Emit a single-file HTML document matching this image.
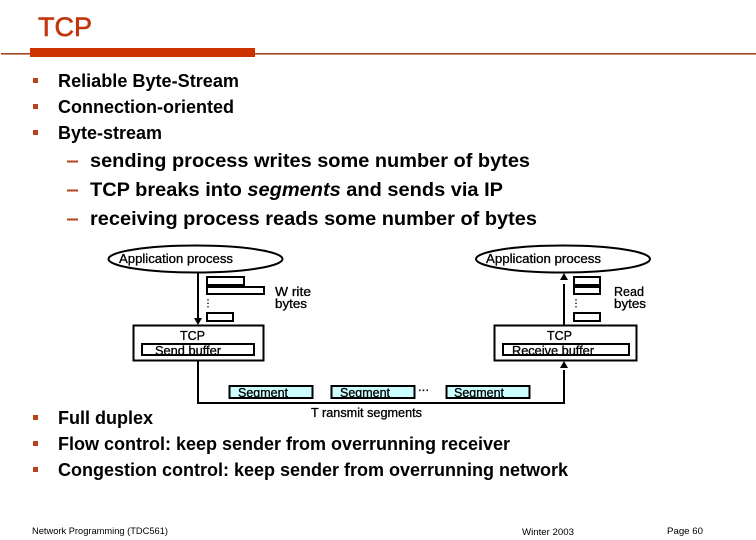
<!DOCTYPE html>
<html>
<head>
<meta charset="utf-8">
<style>
html,body{margin:0;padding:0;background:#fff;width:756px;height:540px;overflow:hidden}
svg{display:block}
text{font-family:"Liberation Sans",sans-serif;fill:#000}
.b{font-size:18px;font-weight:bold}
.s{font-size:19.5px;font-weight:bold}
.d{font-size:12.500px;stroke:#000;stroke-width:.3px}
.f{font-size:9.500px}
</style>
</head>
<body>
<svg width="756" height="540" viewBox="0 0 756 540" xmlns="http://www.w3.org/2000/svg">
<defs>
<clipPath id="c1"><rect x="143" y="345" width="110" height="9"/></clipPath>
<clipPath id="c2"><rect x="504" y="345" width="124" height="9"/></clipPath>
<clipPath id="c3"><rect x="230" y="387" width="82" height="10"/></clipPath>
<clipPath id="c4"><rect x="332" y="387" width="82" height="10"/></clipPath>
<clipPath id="c5"><rect x="447" y="387" width="82" height="10"/></clipPath>
</defs>
<text x="38" y="36" font-size="27" style="fill:#c1360c;stroke:#c1360c;stroke-width:.6px" textLength="54" lengthAdjust="spacingAndGlyphs">TCP</text>
<rect x="1" y="53" width="755" height="1.6" fill="#a5461f"/>
<rect x="30" y="48" width="225" height="9" fill="#cc3300"/>

<g fill="#b5441a">
<rect x="33" y="78" width="5" height="5"/>
<rect x="33" y="104" width="5" height="5"/>
<rect x="33" y="130" width="5" height="5"/>
<rect x="33" y="415" width="5" height="5"/>
<rect x="33" y="441" width="5" height="5"/>
<rect x="33" y="467" width="5" height="5"/>
<rect x="67" y="160.500" width="11" height="2"/>
<rect x="67" y="189.500" width="11" height="2"/>
<rect x="67" y="218.500" width="11" height="2"/>
</g>

<text class="b" x="58" y="87" textLength="181" lengthAdjust="spacingAndGlyphs">Reliable Byte-Stream</text>
<text class="b" x="58" y="113" textLength="176" lengthAdjust="spacingAndGlyphs">Connection-oriented</text>
<text class="b" x="58" y="139" textLength="104" lengthAdjust="spacingAndGlyphs">Byte-stream</text>

<text class="s" x="90" y="167" textLength="440" lengthAdjust="spacingAndGlyphs">sending process writes some number of bytes</text>
<text class="s" x="90" y="196" textLength="413" lengthAdjust="spacingAndGlyphs">TCP breaks into <tspan font-style="italic">segments</tspan> and sends via IP</text>
<text class="s" x="90" y="225" textLength="447" lengthAdjust="spacingAndGlyphs">receiving process reads some number of bytes</text>

<ellipse cx="195.500" cy="259" rx="87" ry="13.500" fill="#fff" stroke="#000" stroke-width="2"/>
<ellipse cx="563" cy="259" rx="87" ry="13.500" fill="#fff" stroke="#000" stroke-width="2"/>
<text class="d" x="119" y="263" textLength="114" lengthAdjust="spacingAndGlyphs">Application process</text>
<text class="d" x="486" y="263" textLength="115" lengthAdjust="spacingAndGlyphs">Application process</text>

<g fill="none" stroke="#000" stroke-width="2">
<path d="M198 273V319"/>
<path d="M198 361V403H564V370"/>
<path d="M564 325V284"/>
<rect x="207" y="277" width="37" height="8" fill="#fff"/>
<rect x="207" y="287" width="57" height="7" fill="#fff"/>
<rect x="207" y="313" width="26" height="8" fill="#fff"/>
<rect x="574" y="277" width="26" height="8" fill="#fff"/>
<rect x="574" y="287" width="26" height="7" fill="#fff"/>
<rect x="574" y="313" width="26" height="8" fill="#fff"/>
<rect x="133.500" y="325.500" width="130" height="35" fill="#fff"/>
<rect x="494.500" y="325.500" width="142" height="35" fill="#fff"/>
<rect x="142" y="344" width="112" height="11" fill="#fff"/>
<rect x="503" y="344" width="126" height="11" fill="#fff"/>
<rect x="229.500" y="386" width="83" height="12" fill="#ccffff"/>
<rect x="331.500" y="386" width="83" height="12" fill="#ccffff"/>
<rect x="446.500" y="386" width="83" height="12" fill="#ccffff"/>
</g>
<rect x="207" y="284" width="37" height="3" fill="#000"/>
<rect x="574" y="284" width="26" height="3" fill="#000"/>
<path d="M194 318H202L198 325Z" fill="#000"/>
<path d="M560 280H568L564 273Z" fill="#000"/>
<path d="M560 368H568L564 361Z" fill="#000"/>
<path d="M208 299V309M576 299V309" stroke="#000" stroke-width="1.200" stroke-dasharray="1.500 2" fill="none"/>

<text class="d" x="275" y="296" textLength="36" lengthAdjust="spacingAndGlyphs">W rite</text>
<text class="d" x="275" y="308" textLength="32" lengthAdjust="spacingAndGlyphs">bytes</text>
<text class="d" x="614" y="296" textLength="30" lengthAdjust="spacingAndGlyphs">Read</text>
<text class="d" x="614" y="308" textLength="32" lengthAdjust="spacingAndGlyphs">bytes</text>
<text class="d" x="180" y="340" textLength="25" lengthAdjust="spacingAndGlyphs">TCP</text>
<text class="d" x="547" y="340" textLength="25" lengthAdjust="spacingAndGlyphs">TCP</text>
<g clip-path="url(#c1)"><text class="d" x="155" y="355" textLength="66" lengthAdjust="spacingAndGlyphs">Send buffer</text></g>
<g clip-path="url(#c2)"><text class="d" x="512" y="355" textLength="82" lengthAdjust="spacingAndGlyphs">Receive buffer</text></g>
<g clip-path="url(#c3)"><text class="d" x="238" y="397" textLength="50" lengthAdjust="spacingAndGlyphs">Segment</text></g>
<g clip-path="url(#c4)"><text class="d" x="340" y="397" textLength="50" lengthAdjust="spacingAndGlyphs">Segment</text></g>
<g clip-path="url(#c5)"><text class="d" x="454" y="397" textLength="50" lengthAdjust="spacingAndGlyphs">Segment</text></g>
<text class="d" x="418" y="391" textLength="11" lengthAdjust="spacingAndGlyphs">...</text>
<text class="d" x="311" y="417" textLength="111" lengthAdjust="spacingAndGlyphs">T ransmit segments</text>

<text class="b" x="58" y="424" textLength="95" lengthAdjust="spacingAndGlyphs">Full duplex</text>
<text class="b" x="58" y="450" textLength="452" lengthAdjust="spacingAndGlyphs">Flow control: keep sender from overrunning receiver</text>
<text class="b" x="58" y="476" textLength="510" lengthAdjust="spacingAndGlyphs">Congestion control: keep sender from overrunning network</text>

<text class="f" x="32" y="534" textLength="136" lengthAdjust="spacingAndGlyphs">Network Programming (TDC561)</text>
<text class="f" x="522" y="535" textLength="52" lengthAdjust="spacingAndGlyphs">Winter 2003</text>
<text class="f" x="667" y="534" textLength="36" lengthAdjust="spacingAndGlyphs">Page 60</text>
</svg>
</body>
</html>
